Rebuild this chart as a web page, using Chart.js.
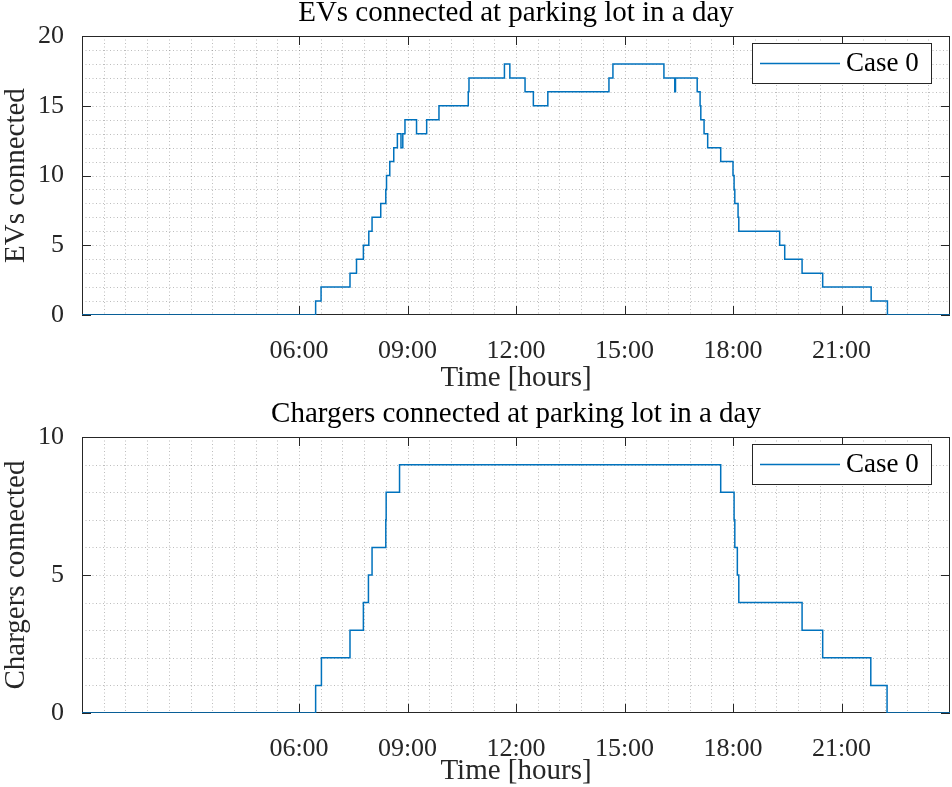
<!DOCTYPE html>
<html><head><meta charset="utf-8">
<script src="https://cdn.jsdelivr.net/npm/chart.js@4.4.0/dist/chart.umd.min.js"></script>
<style>html,body{margin:0;padding:0;background:#fff;overflow:hidden}canvas{display:block}</style>
</head><body>
<canvas id="c1" width="952" height="400"></canvas>
<canvas id="c2" width="952" height="387"></canvas>
<script>
// ---- data (hours of day, value starting at that time) ----
const evTimes  = [0, 6.46, 6.61, 7.41, 7.59, 7.78, 7.93, 8.02, 8.26, 8.40, 8.42, 8.51, 8.62, 8.72, 8.82, 8.87, 8.93, 9.25, 9.53, 9.87, 10.68, 10.70, 11.68, 11.83, 12.25, 12.48, 12.88, 14.57, 14.68, 16.09, 16.39, 16.41, 17.01, 17.09, 17.11, 17.20, 17.30, 17.66, 18.00, 18.03, 18.05, 18.14, 18.16, 19.29, 19.43, 19.91, 20.48, 21.82, 22.27, 24];
const evValues = [0, 1,    2,    3,    4,    5,    6,    7,    8,    9,    10,   11,   12,   13,   12,   13,   14,   13,   14,   15,   16,    17,    18,    17,    16,    15,    16,    17,    18,    17,    16,    17,    16,    15,    14,    13,    12,    11,    10,    9,     8,     7,     6,     5,     4,     3,     2,     1,     0,     0];
const chTimes  = [0, 6.46, 6.62, 7.41, 7.78, 7.92, 8.02, 8.40, 8.41, 8.78, 17.66, 18.03, 18.05, 18.12, 18.16, 19.91, 20.48, 21.81, 22.26, 24];
const chValues = [0, 1,    2,    3,    4,    5,    6,    7,    8,    9,    8,     7,     6,     5,     4,     3,     2,     1,     0,     0];
const xTickHours = [6, 9, 12, 15, 18, 21];
const evYTicks = [0, 5, 10, 15, 20];
const chYTicks = [0, 5, 10];
const xMinorHours = 0.6;
const yMinorStep = 1;
const seriesLabel = 'Case 0';

const FONT = "'Liberation Serif', 'Times New Roman', serif";
const LINE_COLOR = '#0072BD';
const AX = '#262626';

const matlabAxes = {
  id: 'matlabAxes',
  beforeDatasetsDraw(chart, args, opts) {
    const {ctx, chartArea: a, scales: {x, y}} = chart;
    const L = Math.round(a.left), R = Math.round(a.right), T = Math.round(a.top), B = Math.round(a.bottom);
    ctx.save();
    ctx.lineWidth = 1;
    ctx.strokeStyle = 'rgba(38,38,38,0.30)';
    ctx.setLineDash([1, 2.5]);
    for (let k = 1; k * xMinorHours < x.max - 1e-9; k++) {
      const px = Math.round(x.getPixelForValue(k * xMinorHours)) + 0.5;
      ctx.beginPath(); ctx.moveTo(px, T); ctx.lineTo(px, B); ctx.stroke();
    }
    for (let v = y.min + yMinorStep; v < y.max - 1e-9; v += yMinorStep) {
      const py = Math.round(y.getPixelForValue(v)) + 0.5;
      ctx.beginPath(); ctx.moveTo(L, py); ctx.lineTo(R, py); ctx.stroke();
    }
    ctx.setLineDash([]);
    ctx.strokeStyle = AX;
    const tl = 9;
    ctx.beginPath();
    for (const h of opts.xTicks) {
      const px = Math.round(x.getPixelForValue(h)) + 0.5;
      ctx.moveTo(px, T); ctx.lineTo(px, T + tl);
      ctx.moveTo(px, B); ctx.lineTo(px, B - tl);
    }
    for (const v of opts.yTicks) {
      const py = Math.round(y.getPixelForValue(v)) + 0.5;
      ctx.moveTo(L, py); ctx.lineTo(L + tl, py);
      ctx.moveTo(R, py); ctx.lineTo(R - tl, py);
    }
    ctx.stroke();
    ctx.strokeRect(L + 0.5, T + 0.5, R - L - 1, B - T - 1);
    ctx.restore();
  },
  afterDatasetsDraw(chart) {
    const {ctx, chartArea: a} = chart;
    const ds = chart.data.datasets[0];
    const bx = Math.round(a.right) - 198, by = Math.round(a.top) + 7, bw = 179, bh = 40;
    ctx.save();
    ctx.fillStyle = '#fff';
    ctx.fillRect(bx, by, bw, bh);
    ctx.strokeStyle = AX; ctx.lineWidth = 1;
    ctx.strokeRect(bx + 0.5, by + 0.5, bw, bh);
    ctx.strokeStyle = ds.borderColor; ctx.lineWidth = 1.5;
    ctx.beginPath(); ctx.moveTo(bx + 8, by + bh / 2 + 0.5); ctx.lineTo(bx + 88, by + bh / 2 + 0.5); ctx.stroke();
    ctx.fillStyle = '#000';
    ctx.font = "27px " + FONT;
    ctx.textBaseline = 'middle';
    ctx.textAlign = 'left';
    ctx.fillText(ds.label, bx + 94, by + bh / 2 + 1);
    ctx.restore();
  }
};

function makeChart(id, cfg) {
  const pts = cfg.times.map((t, i) => ({x: t, y: cfg.values[i]}));
  return new Chart(document.getElementById(id), {
    type: 'line',
    data: {datasets: [{label: seriesLabel, data: pts, stepped: true, borderColor: LINE_COLOR,
      borderWidth: 1.5, pointRadius: 0, fill: false, tension: 0}]},
    plugins: [matlabAxes],
    options: {
      responsive: false, animation: false, devicePixelRatio: 1,
      layout: {padding: {left: 0, right: 2, top: 0, bottom: 0}},
      plugins: {
        legend: {display: false}, tooltip: {enabled: false},
        title: {display: true, text: cfg.title, color: '#000', fullSize: false,
          font: {family: FONT, size: 29, weight: 'normal', lineHeight: 0.95},
          padding: {top: cfg.titleTop, bottom: cfg.titleBottom}},
        matlabAxes: {xTicks: xTickHours, yTicks: cfg.yTicks}
      },
      scales: {
        x: {type: 'linear', min: 0, max: 24,
          afterFit: s => { s.height = cfg.xAxisH; },
          afterBuildTicks: s => { s.ticks = xTickHours.map(v => ({value: v})); },
          grid: {display: false}, border: {display: false},
          ticks: {autoSkip: false, maxRotation: 0, padding: 13, color: AX,
            font: {family: FONT, size: 26, lineHeight: 1.2},
            callback: v => String(v).padStart(2, '0') + ':00'},
          title: {display: true, text: 'Time [hours]', color: AX,
            font: {family: FONT, size: 29, lineHeight: 1.0},
            padding: {top: 0, bottom: cfg.xTitleBottom}}
        },
        y: {type: 'linear', min: 0, max: cfg.yMax,
          afterFit: s => { s.width = 82; },
          afterBuildTicks: s => { s.ticks = cfg.yTicks.map(v => ({value: v})); },
          grid: {display: false}, border: {display: false},
          ticks: {padding: 10, color: AX, font: {family: FONT, size: 26, lineHeight: 1.2}},
          title: {display: true, text: cfg.yTitle, color: AX,
            font: {family: FONT, size: 29, lineHeight: 1.0},
            padding: {top: 1.5, bottom: 0}}
        }
      }
    }
  });
}

makeChart('c1', {times: evTimes, values: evValues, title: 'EVs connected at parking lot in a day',
  yTitle: 'EVs connected', yMax: 20, yTicks: evYTicks, titleTop: 0, titleBottom: 8.5,
  xAxisH: 85, xTitleBottom: 7.5});
makeChart('c2', {times: chTimes, values: chValues, title: 'Chargers connected at parking lot in a day',
  yTitle: 'Chargers connected', yMax: 10, yTicks: chYTicks, titleTop: 1, titleBottom: 8.5,
  xAxisH: 74, xTitleBottom: 1.5});
</script>
</body></html>
